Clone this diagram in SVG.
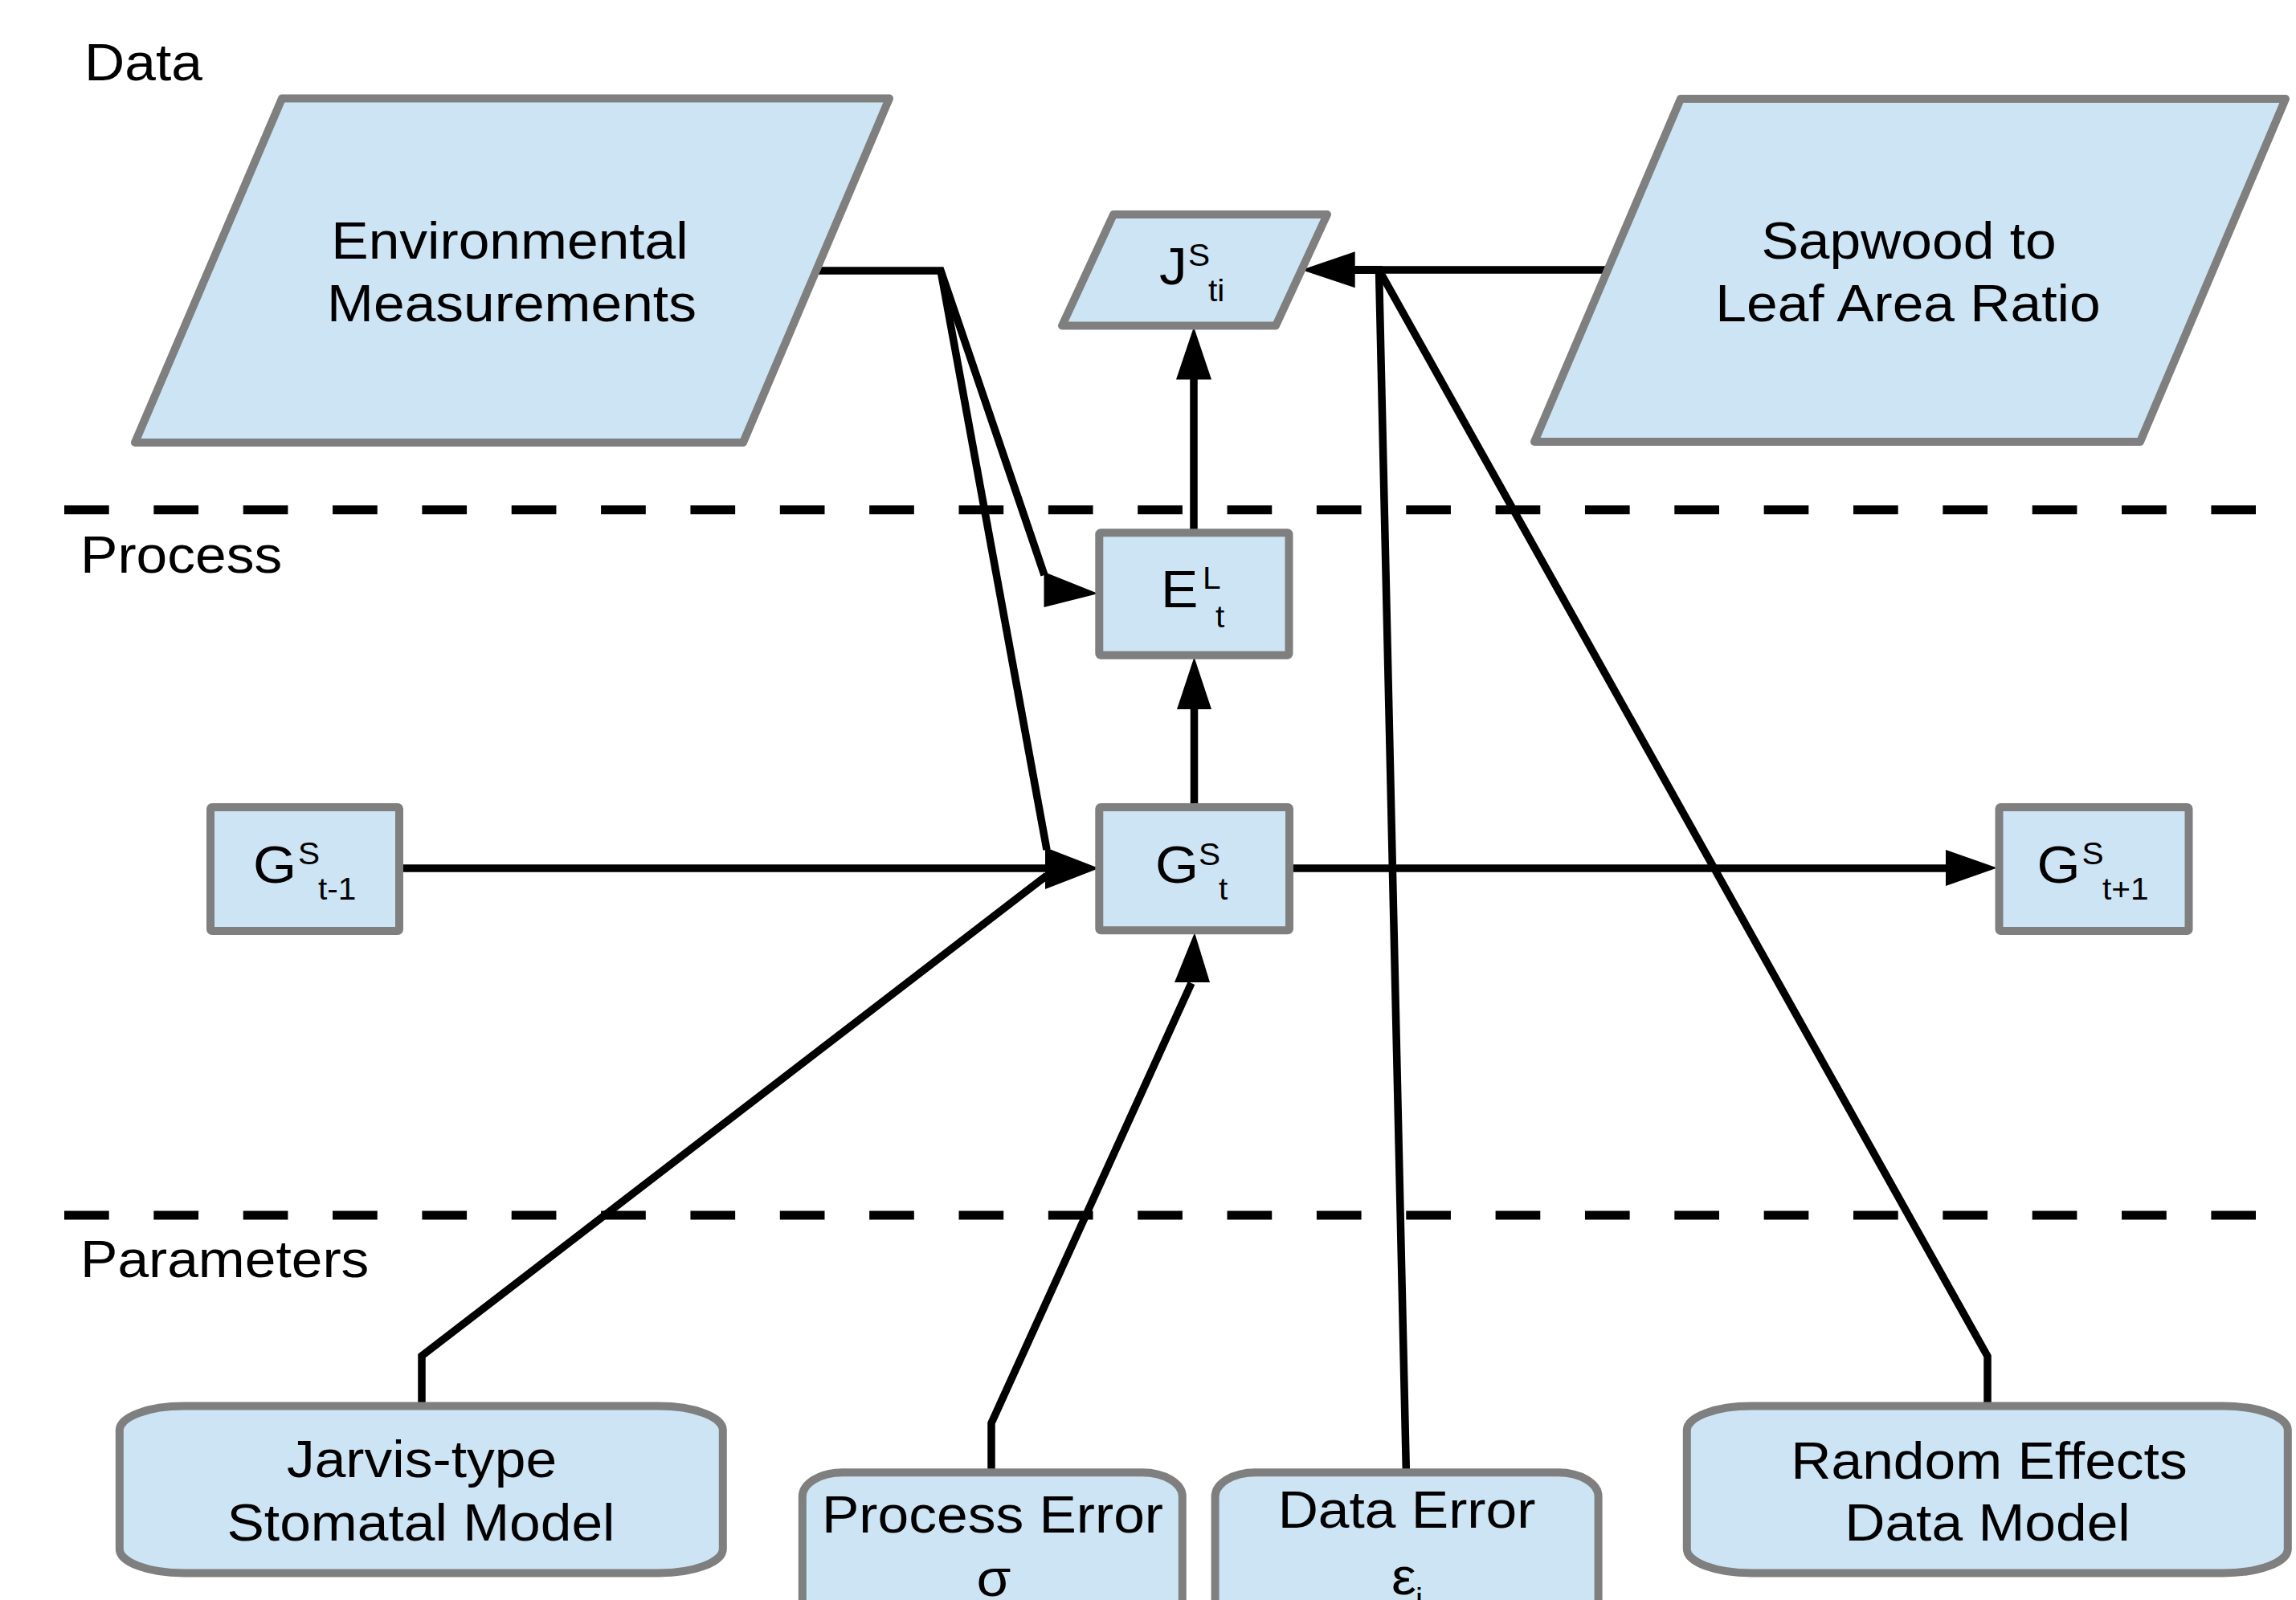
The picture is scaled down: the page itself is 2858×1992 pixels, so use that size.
<svg xmlns="http://www.w3.org/2000/svg" width="2858" height="1992" viewBox="0 0 2858 1992">
<style>
.shape{fill:#cce4f3;stroke:#7f7f7f;stroke-width:10;stroke-linejoin:round}
.t{font-family:"Liberation Sans",Arial,Helvetica,sans-serif;font-size:65px;fill:#000}
.c{text-anchor:middle}
.s{font-size:38px}
.ln{fill:none;stroke:#000;stroke-width:9.5;stroke-linejoin:miter}
.ah{fill:#000;stroke:none}
.dash{stroke:#000;stroke-width:11;stroke-dasharray:55.7 55.65}
</style>
<rect width="2858" height="1992" fill="#fff"/>
<g id="separators">
<line class="dash" x1="80" y1="634.7" x2="2808" y2="634.7"/>
<line class="dash" x1="80" y1="1513" x2="2808" y2="1513"/>
</g>
<g id="section-labels">
<text class="t" transform="matrix(1.07 0 0 1 105 99.5)">Data</text>
<text class="t" transform="matrix(1.07 0 0 1 100 713)">Process</text>
<text class="t" transform="matrix(1.07 0 0 1 100 1590)">Parameters</text>
</g>
<g id="connectors">
<path class="ln" d="M1016,337 L1171,337 L1300,716"/>
<polygon class="ah" points="1299.5,712 1299.5,756 1367,739"/>
<path class="ln" d="M1171,337 L1303,1058"/>
<path class="ln" d="M502,1081 L1302,1081"/>
<path class="ln" d="M525,1746 L525,1688 L1303,1090"/>
<polygon class="ah" points="1301,1055 1301,1107 1368,1081"/>
<path class="ln" d="M1234,1833 L1234,1771.7 L1483,1224"/>
<polygon class="ah" points="1462,1223 1506,1223 1487,1161"/>
<path class="ln" d="M1486.5,1001 L1486.5,882"/>
<polygon class="ah" points="1465,883 1508,883 1486.5,818"/>
<path class="ln" d="M1486,659 L1486,472"/>
<polygon class="ah" points="1464,472.6 1508,472.6 1486,407"/>
<path class="ln" d="M1609,1081 L2423,1081"/>
<polygon class="ah" points="2422,1058 2422,1103 2486,1080.5"/>
<path class="ln" d="M1998,336 L1686,336"/>
<path class="ln" d="M1750.4,1833 L1716.5,336 L1686,336"/>
<path class="ln" d="M2474,1746 L2474,1688.5 L1716.5,336 L1686,336"/>
<polygon class="ah" points="1686.7,313.3 1686.7,358.3 1620,336"/>
</g>
<g id="node-env">
<polygon class="shape" points="351,122.5 1107,122.5 925,551 168,551"/>
<text class="t c" transform="matrix(1.07 0 0 1 634.5 321.5)">Environmental</text>
<text class="t c" transform="matrix(1.07 0 0 1 637 400)">Measurements</text>
</g>
<g id="node-sapwood">
<polygon class="shape" points="2092,123 2845,123 2664,550 1910,550"/>
<text class="t c" transform="matrix(1.07 0 0 1 2376 321.5)">Sapwood to</text>
<text class="t c" transform="matrix(1.07 0 0 1 2375 400)">Leaf Area Ratio</text>
</g>
<g id="node-J">
<polygon class="shape" points="1386,267 1652,267 1588,405.5 1322,405.5"/>
<text class="t" transform="matrix(1.07 0 0 1 1443 354)">J</text>
<text class="t s" transform="matrix(1.07 0 0 1 1479 331)">S</text>
<text class="t s" transform="matrix(1.07 0 0 1 1504 375)">ti</text>
</g>
<g id="node-E">
<rect class="shape" x="1368.3" y="663.3" width="236.2" height="152.4" rx="2"/>
<text class="t" transform="matrix(1.07 0 0 1 1445 756)">E</text>
<text class="t s" transform="matrix(1.07 0 0 1 1497 733)">L</text>
<text class="t s" transform="matrix(1.07 0 0 1 1513 781)">t</text>
</g>
<g id="node-Gtm1">
<rect class="shape" x="262" y="1005" width="235" height="154" rx="2"/>
<text class="t" transform="matrix(1.07 0 0 1 315 1099)">G</text>
<text class="t s" transform="matrix(1.07 0 0 1 371 1076)">S</text>
<text class="t s" transform="matrix(1.07 0 0 1 396 1120)">t-1</text>
</g>
<g id="node-Gt">
<rect class="shape" x="1368.3" y="1005" width="236.7" height="153.3" rx="2"/>
<text class="t" transform="matrix(1.07 0 0 1 1438 1099)">G</text>
<text class="t s" transform="matrix(1.07 0 0 1 1492 1077)">S</text>
<text class="t s" transform="matrix(1.07 0 0 1 1517 1120)">t</text>
</g>
<g id="node-Gtp1">
<rect class="shape" x="2488.5" y="1005" width="236" height="154" rx="2"/>
<text class="t" transform="matrix(1.07 0 0 1 2535.5 1099)">G</text>
<text class="t s" transform="matrix(1.07 0 0 1 2591.5 1076)">S</text>
<text class="t s" transform="matrix(1.07 0 0 1 2617 1120)">t+1</text>
</g>
<g id="node-jarvis">
<rect class="shape" x="148.8" y="1750.6" width="751" height="207.8" rx="80" ry="30"/>
<text class="t c" transform="matrix(1.07 0 0 1 525 1839)">Jarvis-type</text>
<text class="t c" transform="matrix(1.07 0 0 1 524 1918)">Stomatal Model</text>
</g>
<g id="node-process-error">
<rect class="shape" x="998.8" y="1833.3" width="473" height="230" rx="50" ry="30"/>
<text class="t c" transform="matrix(1.07 0 0 1 1235.5 1908.3)">Process Error</text>
<text class="t c" transform="matrix(1.07 0 0 1 1237 1986.7)">σ</text>
</g>
<g id="node-data-error">
<rect class="shape" x="1512.6" y="1833.3" width="477" height="230" rx="50" ry="30"/>
<text class="t c" transform="matrix(1.07 0 0 1 1751 1901.7)">Data Error</text>
<text class="t c" transform="matrix(1.07 0 0 1 1747.5 1985)">ε</text>
<text class="t s" transform="matrix(1.07 0 0 1 1762 2004)">i</text>
</g>
<g id="node-random">
<rect class="shape" x="2099.8" y="1750.6" width="748" height="207.8" rx="80" ry="30"/>
<text class="t c" transform="matrix(1.07 0 0 1 2476 1840.5)">Random Effects</text>
<text class="t c" transform="matrix(1.07 0 0 1 2474 1918.4)">Data Model</text>
</g>
</svg>
